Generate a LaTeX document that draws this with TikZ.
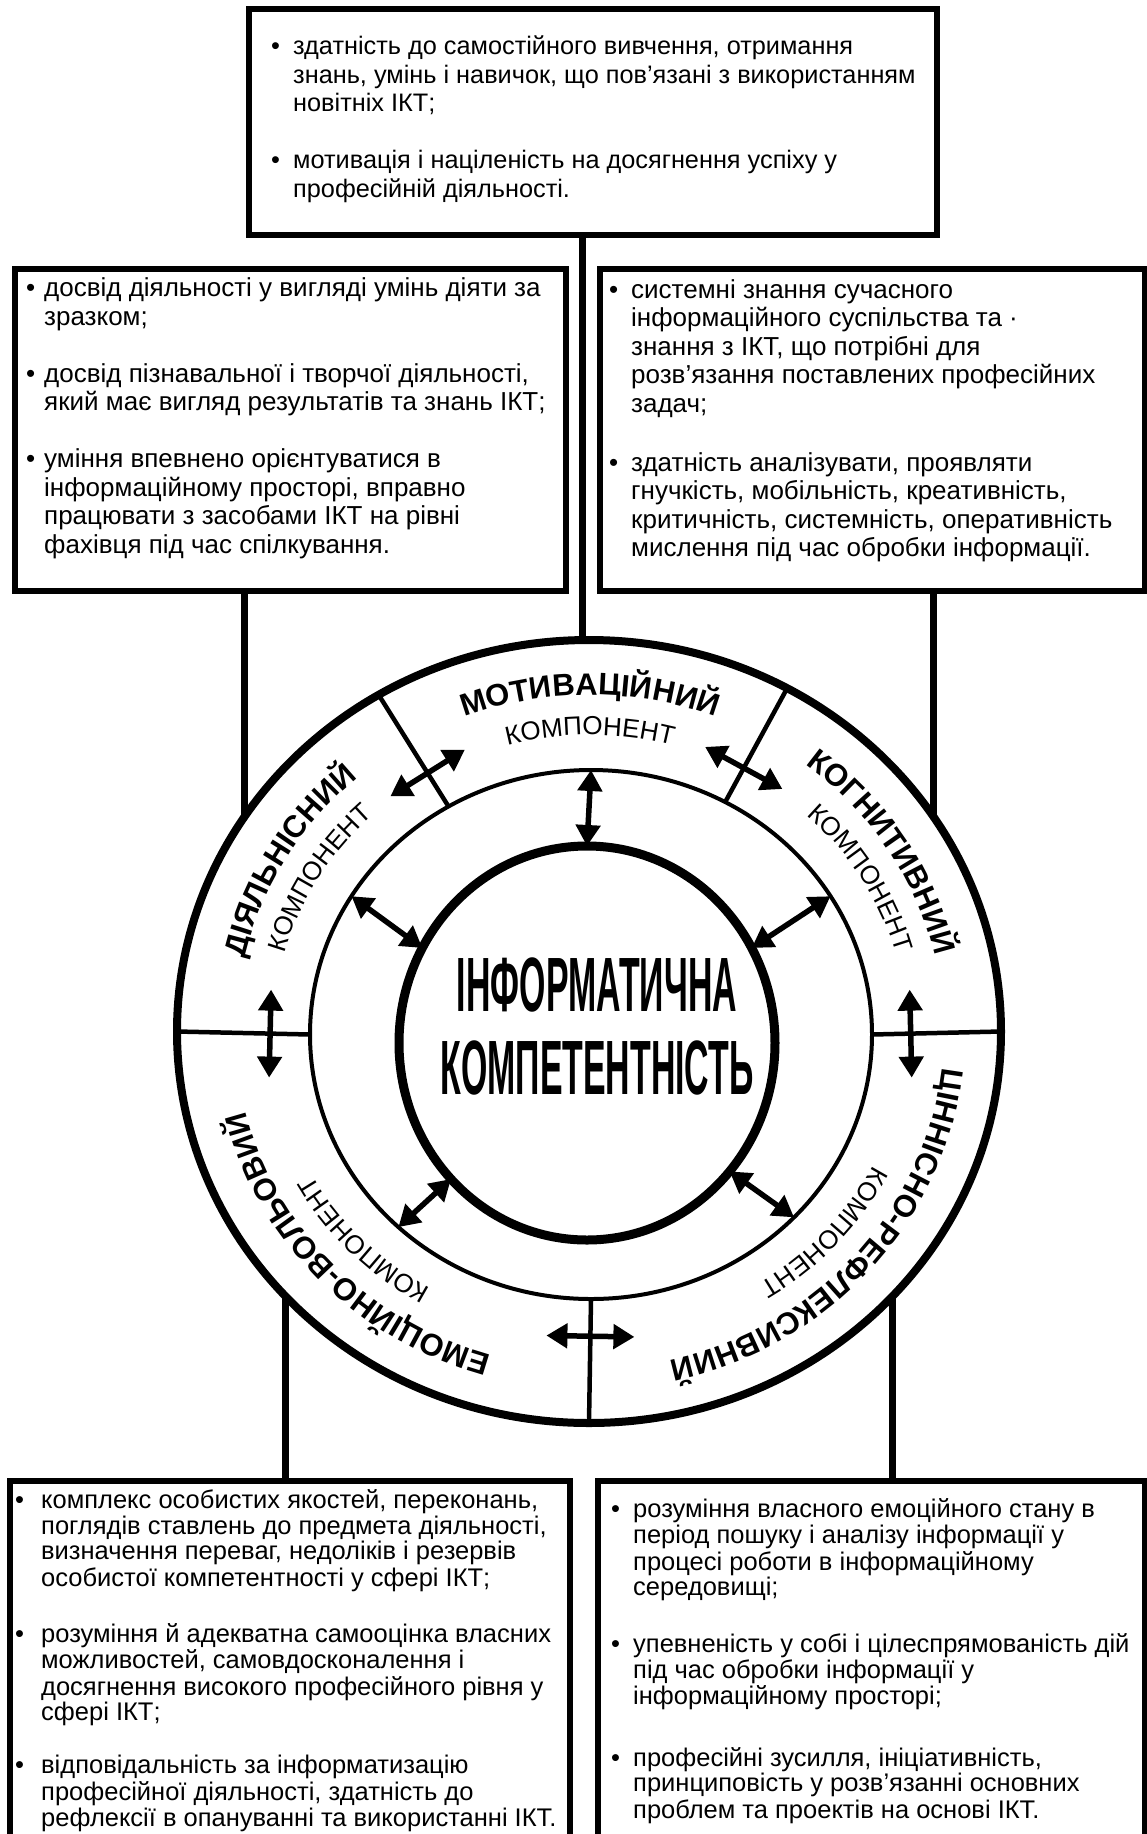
\documentclass[tikz,border=0pt]{standalone}
\usepackage{fontspec}
\setmainfont{Liberation Sans}
\newfontfamily\titelschrift[FakeStretch=0.44]{Liberation Sans}
\usetikzlibrary{shapes.geometric,arrows.meta,calc,decorations.text}

\newcommand\ringfett{\fontsize{31pt}{33pt}\selectfont\bfseries}
\newcommand\ringduenn{\fontsize{26pt}{28pt}\selectfont}

\tikzset{
  kasten/.style={draw, rectangle, line width=6pt, anchor=north west, inner sep=0pt, outer sep=0pt},
  oval/.style={draw, ellipse, inner sep=0pt, outer sep=0pt},
  verbinder/.style={line width=7pt},
  trenner/.style={line width=4.5pt},
  pfeil/.style={line width=5.5pt, {Triangle[length=21pt,width=24pt]}-{Triangle[length=21pt,width=24pt]}},
  punkte/.style={anchor=north west, inner sep=0pt, align=left},
  oben/.style={font=\fontsize{26pt}{28.5pt}\selectfont},
  unten/.style={font=\fontsize{25.5pt}{24.7pt}\selectfont},
}

\begin{document}
\begin{tikzpicture}[x=1pt, y=1pt]
\path[fill=white, use as bounding box] (0,0) rectangle (1147,-1834);

% kaesten
\node[kasten, minimum width=688pt, minimum height=226pt] (motiv) at (249,-9) {};
\node[kasten, minimum width=551pt, minimum height=322pt] (diyal) at (15,-269) {};
\node[kasten, minimum width=545pt, minimum height=322pt] (kogn) at (600,-269) {};
\node[kasten, minimum width=560pt, minimum height=420pt] (emoc) at (10,-1481) {};
\node[kasten, minimum width=547pt, minimum height=420pt] (cinn) at (598,-1481) {};

% ringe
\node[oval, line width=8pt, minimum width=824pt, minimum height=783pt] (ring) at (589,-1031.5) {};
\node[oval, line width=4pt, minimum width=562pt, minimum height=529pt] (mitte) at (591,-1034.5) {};
\node[oval, line width=9pt, minimum width=376pt, minimum height=394pt] (ikt) at (587,-1043) {};
\coordinate (mz) at (590,-1032);

% verbindungen
\draw[verbinder] ([xshift=-11pt]motiv.south) -- ([xshift=-7pt]ring.north);
\draw[verbinder] (diyal.south -| ring.148) -- (ring.148);
\draw[verbinder] (kogn.south -| ring.32) -- (ring.32);
\draw[verbinder] (ring.221) -- (ring.221 |- emoc.north);
\draw[verbinder] (ring.319) -- (ring.319 |- cinn.north);

% trenner und pfeile im ring
\foreach \w in {122,60,180,0,270} {
  \draw[trenner] (mitte.\w) -- (ring.\w);
  \coordinate (k\w) at ($(mitte.\w)!0.3!(ring.\w)$);
  \draw[pfeil] ($(k\w)!44pt!90:(ring.\w)$) -- ($(k\w)!44pt!-90:(ring.\w)$);
}
\foreach \w in {90,150,30,225,318}
  \draw[pfeil] (mitte.\w) -- (ikt.\w);

% beschriftung im ring
\path[decorate, decoration={text along path, text align=center, text={|\ringfett|МОТИВАЦІЙНИЙ}}]
  ($(mz)+(150:354pt and 337pt)$) arc[start angle=150, end angle=30, x radius=354pt, y radius=337pt];
\path[decorate, decoration={text along path, text align=center, text={|\ringfett|ДІЯЛЬНІСНИЙ}}]
  ($(mz)+(210:354pt and 337pt)$) arc[start angle=210, end angle=90, x radius=354pt, y radius=337pt];
\path[decorate, decoration={text along path, text align=center, text={|\ringfett|КОГНИТИВНИЙ}}]
  ($(mz)+(92:354pt and 337pt)$) arc[start angle=92, end angle=-28, x radius=354pt, y radius=337pt];
\path[decorate, decoration={text along path, text align=center, text={|\ringfett|ЦІННІСНО-РЕФЛЕКСИВНИЙ}}]
  ($(mz)+(19:354pt and 337pt)$) arc[start angle=19, end angle=-101, x radius=354pt, y radius=337pt];
\path[decorate, decoration={text along path, text align=center, text={|\ringfett|ЕМОЦІЙНО-ВОЛЬОВИЙ}}]
  ($(mz)+(283:354pt and 337pt)$) arc[start angle=283, end angle=163, x radius=354pt, y radius=337pt];

\path[decorate, decoration={text along path, text align=center, text={|\ringduenn|КОМПОНЕНТ}}]
  ($(mz)+(150:317pt and 297pt)$) arc[start angle=150, end angle=30, x radius=317pt, y radius=297pt];
\path[decorate, decoration={text along path, text align=center, text={|\ringduenn|КОМПОНЕНТ}}]
  ($(mz)+(210:317pt and 297pt)$) arc[start angle=210, end angle=90, x radius=317pt, y radius=297pt];
\path[decorate, decoration={text along path, text align=center, text={|\ringduenn|КОМПОНЕНТ}}]
  ($(mz)+(90:317pt and 297pt)$) arc[start angle=90, end angle=-30, x radius=317pt, y radius=297pt];
\path[decorate, decoration={text along path, text align=center, text={|\ringduenn|КОМПОНЕНТ}}]
  ($(mz)+(19:317pt and 297pt)$) arc[start angle=19, end angle=-101, x radius=317pt, y radius=297pt];
\path[decorate, decoration={text along path, text align=center, text={|\ringduenn|КОМПОНЕНТ}}]
  ($(mz)+(283:317pt and 297pt)$) arc[start angle=283, end angle=163, x radius=317pt, y radius=297pt];

% mitte
\node[font=\titelschrift\bfseries\fontsize{77pt}{83pt}\selectfont, align=center, inner sep=0pt] (titel) at (597,-1026) {ІНФОРМАТИЧНА\\КОМПЕТЕНТНІСТЬ};

% texte in den kaesten
\node[punkte, font=\fontsize{25.3pt}{28.5pt}\selectfont] (motivtext) at (271,-34.5) {%
\begin{tabular}{@{}p{22pt}@{}l@{}}
\textbullet & здатність до самостійного вивчення,  отримання\\
 & знань, умінь і навичок, що пов’язані з використанням\\
 & новітніх ІКТ;\\[28.5pt]
\textbullet & мотивація і націленість на досягнення успіху у\\
 & професійній діяльності.
\end{tabular}};

\node[punkte, oben] (diyaltext) at (26,-276.5) {%
\begin{tabular}{@{}p{18pt}@{}l@{}}
\textbullet & досвід діяльності у вигляді умінь діяти за\\
 & зразком;\\[28.5pt]
\textbullet & досвід пізнавальної і творчої діяльності,\\
 & який має  вигляд результатів та знань ІКТ;\\[28.5pt]
\textbullet & уміння впевнено орієнтуватися в\\
 & інформаційному просторі, вправно\\
 & працювати з засобами ІКТ на рівні\\
 & фахівця під час спілкування.
\end{tabular}};

\node[punkte, oben] (kogntext) at (609,-278) {%
\begin{tabular}{@{}p{22pt}@{}l@{}}
\textbullet & системні знання сучасного\\
 & інформаційного суспільства та ·\\
 & знання  з ІКТ, що потрібні  для\\
 & розв'язання поставлених професійних\\
 & задач;\\[30.5pt]
\textbullet & здатність аналізувати, проявляти\\
 & гнучкість, мобільність, креативність,\\
 & критичність, системність, оперативність\\
 & мислення під час обробки інформації.
\end{tabular}};

\node[punkte, unten] (emoctext) at (15,-1489) {%
\begin{tabular}{@{}p{26pt}@{}l@{}}
\textbullet & комплекс особистих якостей, переконань,\\
 & поглядів ставлень до предмета діяльності,\\
 & визначення переваг, недоліків і резервів\\
 & особистої компетентності у сфері ІКТ;\\[30pt]
\textbullet & розуміння й адекватна самооцінка власних\\
 & можливостей, самовдосконалення і\\
 & досягнення високого  професійного рівня у\\
 & сфері ІКТ;\\[27pt]
\textbullet & відповідальність за інформатизацію\\
 & професійної діяльності, здатність до\\
 & рефлексії в опануванні та використанні ІКТ.
\end{tabular}};

\node[punkte, unten] (cinntext) at (611,-1498.7) {%
\begin{tabular}{@{}p{22pt}@{}l@{}}
\textbullet & розуміння власного емоційного стану в\\
 & період пошуку і аналізу інформації у\\
 & процесі роботи в інформаційному\\
 & середовищі;\\[30pt]
\textbullet & упевненість у собі і цілеспрямованість дій\\
 & під час обробки інформації у\\
 & інформаційному просторі;\\[35pt]
\textbullet & професійні зусилля, ініціативність,\\
 & принциповість у розв'язанні основних\\
 & проблем та проектів  на основі ІКТ.
\end{tabular}};
\end{tikzpicture}
\end{document}
